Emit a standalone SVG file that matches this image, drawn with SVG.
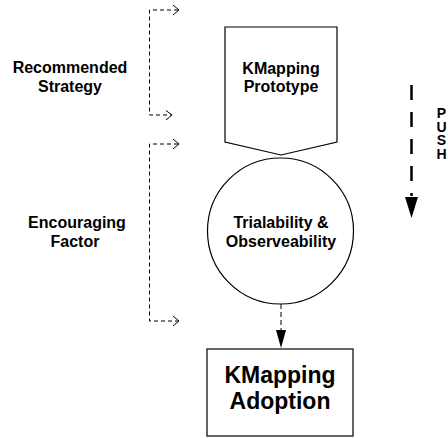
<svg xmlns="http://www.w3.org/2000/svg" width="448" height="438" viewBox="0 0 448 438">
  <style>
    .lbl { font-family: "Liberation Sans", Arial, sans-serif; font-weight: bold; fill: #000; text-anchor: middle; }
    .shape { fill: #fff; stroke: #000; stroke-width: 1.2; }
    .brk { fill: none; stroke: #000; stroke-width: 1; stroke-dasharray: 4 3; }
    .chev { fill: none; stroke: #000; stroke-width: 1; }
    .vert { font-family: "Liberation Sans", Arial, sans-serif; font-weight: bold; fill: #000; writing-mode: vertical-rl; text-orientation: upright; letter-spacing: -2.5px; }
  </style>
  <rect width="448" height="438" fill="#fff"/>

  <g id="recommended-strategy">
    <text class="lbl" x="70" y="73" font-size="16">Recommended</text>
    <text class="lbl" x="70" y="92" font-size="16">Strategy</text>
  </g>
  <g id="encouraging-factor">
    <text class="lbl" x="77" y="228" font-size="16">Encouraging</text>
    <text class="lbl" x="75" y="247" font-size="16">Factor</text>
  </g>

  <g id="kmapping-prototype">
    <polygon class="shape" points="225,27 337,27 337,142 281,155 225,142"/>
    <text class="lbl" x="281" y="74" font-size="16">KMapping</text>
    <text class="lbl" x="281" y="92" font-size="16">Prototype</text>
  </g>

  <g id="trialability">
    <circle class="shape" cx="280.5" cy="231" r="73" stroke-width="1"/>
    <text class="lbl" x="281" y="228" font-size="16">Trialability &amp;</text>
    <text class="lbl" x="281" y="247" font-size="16">Observeability</text>
  </g>

  <g id="kmapping-adoption">
    <rect class="shape" x="207" y="349" width="146" height="87"/>
    <text class="lbl" x="280" y="383" font-size="23">KMapping</text>
    <text class="lbl" x="280" y="409" font-size="23">Adoption</text>
  </g>

  <g id="push">
    <line x1="411.5" y1="85" x2="411.5" y2="196" stroke="#000" stroke-width="2.5" stroke-dasharray="15 12"/>
    <polygon points="405,197 418,197 411.5,218" fill="#000"/>
    <text class="vert" x="441.5" y="105" font-size="14">PUSH</text>
  </g>

  <g id="connectors">
    <!-- bracket 1 -->
    <polyline class="brk" points="178,10 149.5,10 149.5,115 171,115"/>
    <polyline class="chev" points="173,5 179,10 173,15"/>
    <polyline class="chev" points="166,110.5 172,115 166,120"/>
    <!-- bracket 2 -->
    <polyline class="brk" points="178,144 149.5,144 149.5,321 178,321"/>
    <polyline class="chev" points="173,139 179,144 173,149"/>
    <polyline class="chev" points="173,316 179,321 173,326"/>
    <!-- circle to adoption -->
    <line x1="281" y1="304" x2="281" y2="331" stroke="#000" stroke-width="1" stroke-dasharray="5 3"/>
    <polygon points="276,330 286,330 281,348" fill="#000"/>
  </g>
</svg>
